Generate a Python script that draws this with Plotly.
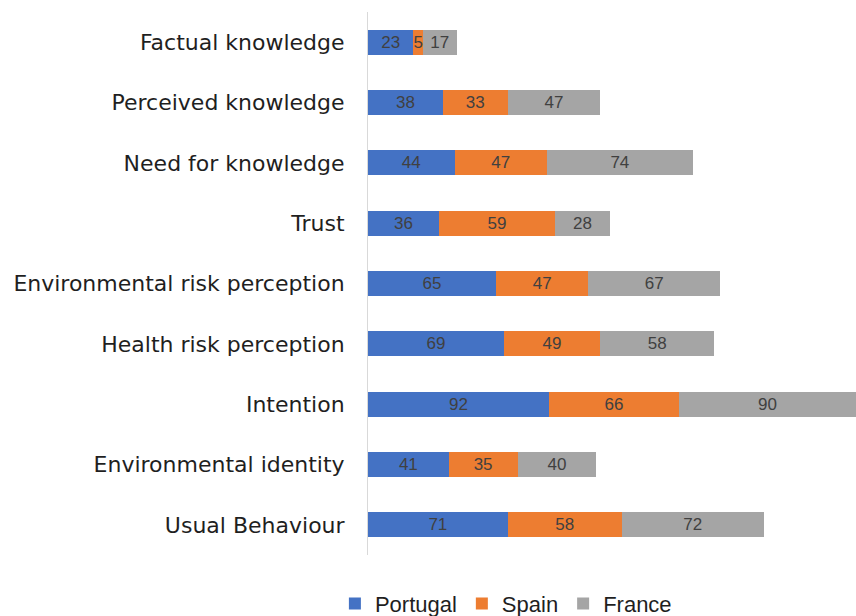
import plotly.graph_objects as go

categories = ["Factual knowledge", "Perceived knowledge", "Need for knowledge", "Trust",
              "Environmental risk perception", "Health risk perception", "Intention",
              "Environmental identity", "Usual Behaviour"]
portugal = [23, 38, 44, 36, 65, 69, 92, 41, 71]
spain = [5, 33, 47, 59, 47, 49, 66, 35, 58]
france = [17, 47, 74, 28, 67, 58, 90, 40, 72]

series = [("Portugal", portugal, "#4472C4"), ("Spain", spain, "#ED7D31"), ("France", france, "#A5A5A5")]

fig = go.Figure()
for name, vals, color in series:
    fig.add_trace(go.Bar(
        y=categories, x=vals, name=name, orientation="h",
        marker=dict(color=color, line=dict(width=0)),
        text=vals, textposition="inside", insidetextanchor="middle", textangle=0,
        textfont=dict(color="#404040", size=17, family="Liberation Sans"),
        width=0.41,
    ))

fig.update_layout(
    barmode="stack",
    width=856, height=616,
    margin=dict(l=368, r=0, t=12, b=61, autoexpand=False),
    plot_bgcolor="white", paper_bgcolor="white",
    font=dict(family="Liberation Sans", color="#262626"),
    uniformtext=dict(minsize=17, mode="show"),
    xaxis=dict(range=[0, 248], showticklabels=False, showgrid=False, zeroline=False, showline=False, fixedrange=True),
    yaxis=dict(autorange="reversed", showgrid=False, showline=True, linecolor="#D9D9D9", linewidth=1,
               ticks="", ticklabelstandoff=18,
               tickfont=dict(size=22, color="#1f1f1f", family="DejaVu Sans")),
    legend=dict(orientation="h", xref="container", yref="container", x=0.591, xanchor="center",
                y=0.02, yanchor="middle", font=dict(size=22, color="#1f1f1f"), traceorder="normal",
                itemwidth=30),
    showlegend=True,
)

fig.write_html("out.html", config={"displayModeBar": False},
               post_script="document.body.style.margin='0';document.body.style.overflow='hidden';")
